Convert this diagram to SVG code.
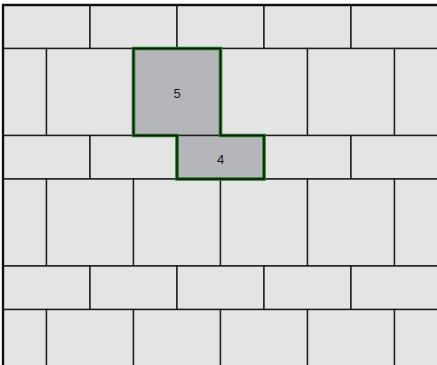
<svg xmlns="http://www.w3.org/2000/svg" width="437" height="365" viewBox="0 0 437 365">
<style>
.t{fill:#e4e4e4;stroke:#1c1c1c;stroke-width:1.4}
.sel{fill:#b5b6b9;stroke:#1c1c1c;stroke-width:1.4}
.lbl{font-family:"Liberation Sans",Arial,sans-serif;font-size:13px;fill:#1a1a1a;text-anchor:middle}
.og{fill:none;stroke:#1f7f1f;stroke-width:3.6;stroke-linejoin:miter}
.ob{fill:none;stroke:#111;stroke-width:1.4;stroke-linejoin:miter}
</style>
<rect x="0" y="0" width="437" height="365" fill="#ffffff"/>
<g id="tiles">
<rect class="t" x="3" y="5" width="87" height="43.5"/>
<rect class="t" x="90" y="5" width="87" height="43.5"/>
<rect class="t" x="177" y="5" width="87" height="43.5"/>
<rect class="t" x="264" y="5" width="87" height="43.5"/>
<rect class="t" x="351" y="5" width="87" height="43.5"/>
<rect class="t" x="3" y="48.5" width="43.5" height="87"/>
<rect class="t" x="46.5" y="48.5" width="87" height="87"/>
<rect class="t" x="220.5" y="48.5" width="87" height="87"/>
<rect class="t" x="307.5" y="48.5" width="87" height="87"/>
<rect class="t" x="394.5" y="48.5" width="87" height="87"/>
<rect class="t" x="3" y="135.5" width="87" height="43.5"/>
<rect class="t" x="90" y="135.5" width="87" height="43.5"/>
<rect class="t" x="264" y="135.5" width="87" height="43.5"/>
<rect class="t" x="351" y="135.5" width="87" height="43.5"/>
<rect class="t" x="3" y="179" width="43.5" height="87"/>
<rect class="t" x="46.5" y="179" width="87" height="87"/>
<rect class="t" x="133.5" y="179" width="87" height="87"/>
<rect class="t" x="220.5" y="179" width="87" height="87"/>
<rect class="t" x="307.5" y="179" width="87" height="87"/>
<rect class="t" x="394.5" y="179" width="87" height="87"/>
<rect class="t" x="3" y="266" width="87" height="43.5"/>
<rect class="t" x="90" y="266" width="87" height="43.5"/>
<rect class="t" x="177" y="266" width="87" height="43.5"/>
<rect class="t" x="264" y="266" width="87" height="43.5"/>
<rect class="t" x="351" y="266" width="87" height="43.5"/>
<rect class="t" x="3" y="309.5" width="43.5" height="87"/>
<rect class="t" x="46.5" y="309.5" width="87" height="87"/>
<rect class="t" x="133.5" y="309.5" width="87" height="87"/>
<rect class="t" x="220.5" y="309.5" width="87" height="87"/>
<rect class="t" x="307.5" y="309.5" width="87" height="87"/>
<rect class="t" x="394.5" y="309.5" width="87" height="87"/>
</g>
<g id="tile5">
<rect class="sel" x="133.5" y="48.5" width="87" height="87"/>
<text class="lbl" x="177" y="97.5">5</text>
</g>
<g id="tile4">
<rect class="sel" x="177" y="135.5" width="87" height="43.5"/>
<text class="lbl" x="220.5" y="163.5">4</text>
</g>
<g id="selection-outline">
<path class="og" d="M133.5,48.5 H220.5 V135.5 H264 V179 H177 V135.5 H133.5 Z"/>
<path class="ob" d="M133.5,48.5 H220.5 V135.5 H264 V179 H177 V135.5 H133.5 Z"/>
</g>
<path d="M3,365 V5 H437" fill="none" stroke="#111" stroke-width="2.4"/>
</svg>
